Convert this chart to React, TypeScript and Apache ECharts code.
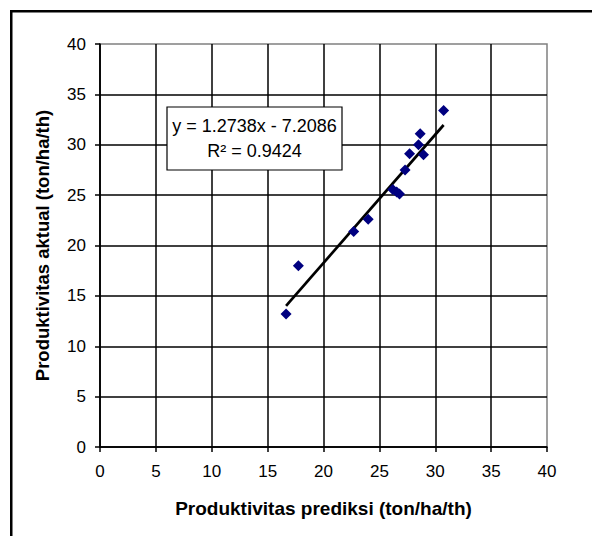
import React, { useEffect, useRef } from "react";
import * as echarts from "echarts";

const xTitle = "Produktivitas prediksi (ton/ha/th)";
const yTitle = "Produktivitas aktual (ton/ha/th)";
const predicted = [16.65, 17.75, 22.7, 24.0, 26.2, 26.55, 26.8, 27.3, 27.7, 28.5, 28.65, 28.95, 30.75];
const actual = [13.2, 18.0, 21.4, 22.6, 25.55, 25.3, 25.1, 27.5, 29.1, 30.0, 31.1, 29.0, 33.4];
const slope = 1.2738;
const intercept = -7.2086;
const rSquared = "0.9424";

const FONT = "'Liberation Sans', Arial, sans-serif";

export default function App() {
  const ref = useRef<HTMLDivElement>(null);
  useEffect(() => {
    if (!ref.current) return;
    const chart = echarts.init(ref.current, undefined, { renderer: "svg" });
    const points = predicted.map((x, i) => [x, actual[i]]);
    const xMin = Math.min(...predicted);
    const xMax = Math.max(...predicted);
    const trend = [
      [xMin, slope * xMin + intercept],
      [xMax, slope * xMax + intercept],
    ];
    const axisCommon = {
      type: "value" as const,
      min: 0,
      max: 40,
      interval: 5,
      nameLocation: "middle" as const,
      axisLine: { show: true, onZero: false, lineStyle: { color: "#000", width: 1.5 } },
      axisTick: { show: true, inside: false, length: 5, lineStyle: { color: "#000", width: 1.5 } },
      axisLabel: { fontFamily: FONT, fontSize: 17, color: "#000" },
      splitLine: { show: true, showMaxLine: false, lineStyle: { color: "#000", width: 1.5 } },
    };
    chart.setOption({
      animation: false,
      backgroundColor: "#fff",
      grid: {
        left: 100,
        right: 45,
        top: 44,
        bottom: 89,
        show: true,
        borderColor: "#808080",
        borderWidth: 1.5,
        backgroundColor: "transparent",
      },
      xAxis: {
        ...axisCommon,
        name: xTitle,
        nameGap: 52,
        nameTextStyle: { fontFamily: FONT, fontSize: 19, fontWeight: "bold", color: "#000" },
        axisLabel: { ...axisCommon.axisLabel, margin: 16 },
      },
      yAxis: {
        ...axisCommon,
        name: yTitle,
        nameGap: 48,
        nameTextStyle: { fontFamily: FONT, fontSize: 18.5, fontWeight: "bold", color: "#000" },
        axisLabel: { ...axisCommon.axisLabel, margin: 14 },
      },
      series: [
        {
          type: "line",
          data: trend,
          symbol: "none",
          lineStyle: { color: "#000", width: 2.7 },
          z: 3,
        },
        {
          type: "scatter",
          data: points,
          symbol: "diamond",
          symbolSize: 11,
          itemStyle: { color: "#000080", opacity: 1 },
          z: 4,
        },
      ],
      graphic: [
        {
          type: "rect",
          z: 100,
          shape: { x: 11.25, y: 11.25, width: 700, height: 700 },
          style: { fill: "none", stroke: "#000", lineWidth: 2.5 },
        },
        {
          type: "rect",
          z: 100,
          shape: { x: 167, y: 107, width: 175, height: 63 },
          style: { fill: "#fff", stroke: "#000", lineWidth: 1.2 },
        },
        {
          type: "text",
          z: 101,
          x: 254.5,
          y: 126,
          style: {
            text: `y = ${slope}x - ${Math.abs(intercept)}`,
            fontFamily: FONT,
            fontSize: 18,
            fill: "#000",
            align: "center",
            verticalAlign: "middle",
          },
        },
        {
          type: "text",
          z: 101,
          x: 254.5,
          y: 151,
          style: {
            text: `R² = ${rSquared}`,
            fontFamily: FONT,
            fontSize: 18,
            fill: "#000",
            align: "center",
            verticalAlign: "middle",
          },
        },
      ],
    });
    return () => chart.dispose();
  }, []);
  return (
    <div
      ref={ref}
      style={{ position: "fixed", left: 0, top: 0, width: 592, height: 536 }}
    />
  );
}
